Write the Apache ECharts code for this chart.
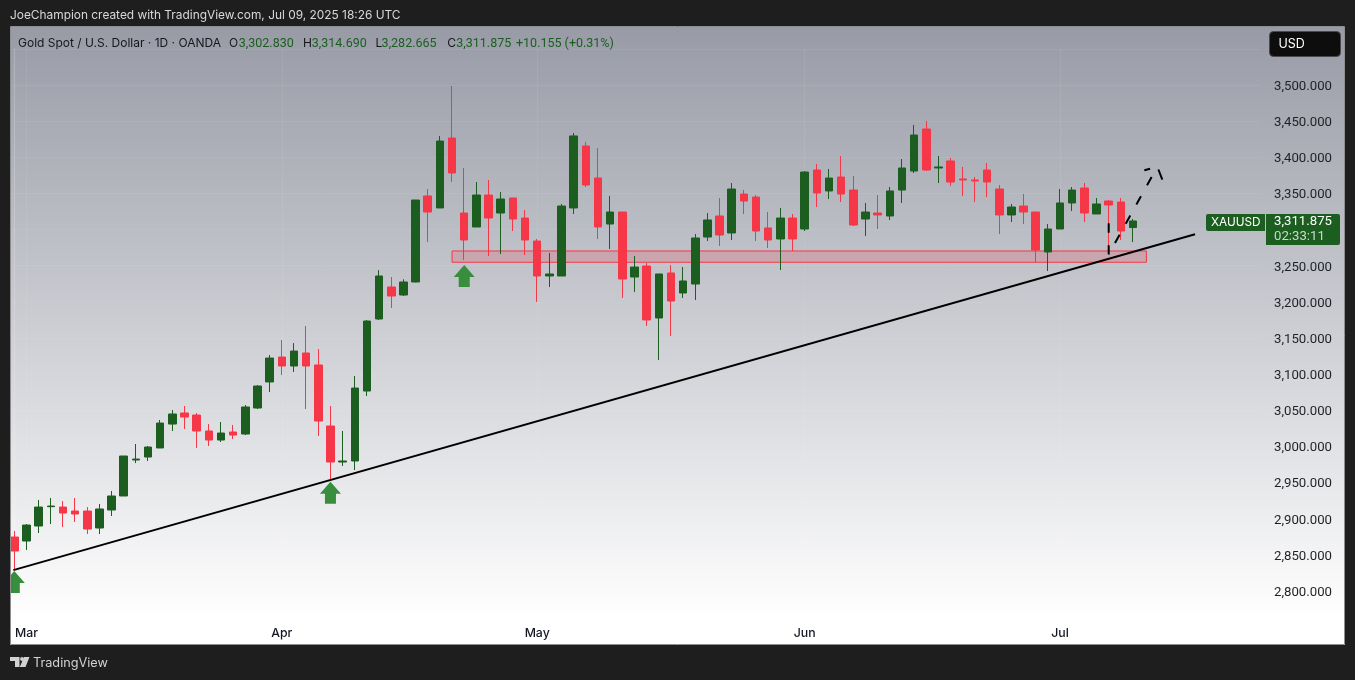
<!DOCTYPE html>
<html><head><meta charset="utf-8">
<style>html,body{margin:0;padding:0;background:#1e1e1e}#c{width:1355px;height:680px}</style>
<script src="https://cdn.jsdelivr.net/npm/echarts@6/dist/echarts.min.js"></script>
</head><body><div id="c"></div>
<script>
const categories = ["Feb 28",
"Mar 3","Mar 4","Mar 5","Mar 6","Mar 7","Mar 10","Mar 11","Mar 12","Mar 13","Mar 14","Mar 17","Mar 18","Mar 19","Mar 20","Mar 21","Mar 24","Mar 25","Mar 26","Mar 27","Mar 28","Mar 31",
"Apr 1","Apr 2","Apr 3","Apr 4","Apr 7","Apr 8","Apr 9","Apr 10","Apr 11","Apr 14","Apr 15","Apr 16","Apr 17","Apr 21","Apr 22","Apr 23","Apr 24","Apr 25","Apr 28","Apr 29","Apr 30",
"May 1","May 2","May 5","May 6","May 7","May 8","May 9","May 12","May 13","May 14","May 15","May 16","May 19","May 20","May 21","May 22","May 23","May 26","May 27","May 28","May 29","May 30",
"Jun 2","Jun 3","Jun 4","Jun 5","Jun 6","Jun 9","Jun 10","Jun 11","Jun 12","Jun 13","Jun 16","Jun 17","Jun 18","Jun 19","Jun 20","Jun 23","Jun 24","Jun 25","Jun 26","Jun 27","Jun 30",
"Jul 1","Jul 2","Jul 3","Jul 4","Jul 7","Jul 8","Jul 9","Jul 10","Jul 11","Jul 14","Jul 15","Jul 16","Jul 17","Jul 18","Jul 21","Jul 22","Jul 23"];
const monthLabels = {"Mar 3":"Mar","Apr 1":"Apr","May 1":"May","Jun 2":"Jun","Jul 1":"Jul"};

const opens = [2874.7,2869.2,2890,2916.7,2916.2,2910.7,2910.7,2887.2,2912.1,2931.5,
2981.3,2985.4,2997.9,3031,3046.3,3043.5,3021.4,3008.9,3020,3017.2,
3053.2,3089.2,3123.7,3111.3,3129.3,3112.7,3028.3,2978.5,2979.9,3076.7,
3176.3,3220.6,3209.5,3227.5,3346.5,3329.9,3426.7,3322.9,3303.6,3347.8,
3322.9,3343.7,3316,3284.2,3235.8,3235.8,3329.9,3415.6,3371.4,3307.7,
3324.3,3234.4,3249.6,3177.7,3240,3212.3,3224.7,3289.7,3318.8,3295.3,
3349.2,3345,3302.2,3287,3316,3300.8,3382.4,3353.4,3372.7,3354.7,
3314.6,3322.9,3318.8,3354.7,3381,3439.1,3385.2,3394.9,3370,3368.6,
3382.4,3356.1,3320.2,3332.6,3324.3,3269,3300.8,3336.8,3357.5,3321.6,
3339.5,3338.1,3302.83];
const closes = [2855.4,2891.3,2916.2,2917.6,2908,2906.6,2885.8,2913.5,2931.5,2986.8,
2982.6,2999.2,3032.4,3044.9,3040.7,3021.4,3008.9,3018.6,3015.8,3054.6,
3083.6,3122.3,3111.3,3132,3111.3,3035.2,2978.5,2979.9,3080.8,3173.5,
3235.8,3208.1,3227.5,3340.9,3324.3,3422.5,3378.3,3285.6,3347.8,3316,
3342.3,3314.6,3285.6,3235.8,3238.6,3332.6,3429.5,3361.7,3303.6,3324.3,
3231.6,3248.2,3175,3238.6,3201.2,3228.9,3288.4,3313.3,3292.5,3356.1,
3339.5,3298,3285.6,3316,3287,3379.6,3350.6,3371.3,3349.2,3306.3,
3324.3,3320.2,3353.4,3385.2,3430.8,3382.4,3386.6,3365.8,3368.6,3367.2,
3365.8,3320.2,3331.2,3324.3,3271.7,3300.8,3336.8,3354.7,3322.9,3335.4,
3334,3298,3311.875];
const lows = [2829,2856.8,2880.3,2892.7,2888.6,2895.5,2878.9,2878.9,2903.8,2931.5,
2977,2979.9,2997.9,3021.4,3024.1,2997.9,3000.6,3006.2,3010.3,3015.8,
3051.8,3075.3,3098.8,3103,3051.8,3014.5,2953.6,2973,2967.4,3069.8,
3175,3191.5,3208.1,3227,3282.8,3329.9,3365.8,3257.9,3303.6,3263.5,
3266.2,3298,3264.8,3199.8,3220.6,3235.8,3321.6,3358.9,3287,3273.1,
3205.4,3213.7,3166.6,3119.6,3152.8,3205.4,3202.6,3284.2,3277.3,3285.6,
3321.6,3284.2,3274.5,3244.1,3270.4,3298,3331.2,3342.3,3338.1,3304.9,
3291.1,3300.8,3313.2,3336.8,3378.3,3381,3364.4,3360.3,3346.4,3338.1,
3345,3293.9,3310.5,3307.7,3254.7,3242.7,3300.8,3325.7,3310.5,3321.6,
3269,3285.6,3282.665];
const highs = [2883,2892.7,2926,2928.7,2924.5,2928.7,2916.2,2920.4,2938.4,2986.8,
3003.4,3000.6,3036.6,3050.4,3056,3046.3,3031,3033.8,3029.7,3057.3,
3085,3126.5,3147.3,3143,3166.6,3134.8,3056,3021.4,3097.5,3174.9,
3244,3234.4,3231.2,3341,3356.1,3429.5,3498.6,3385.2,3365.8,3368.6,
3352,3343.7,3327.1,3287,3267.6,3335.4,3433.6,3421.2,3412.8,3346.5,
3324.3,3263.5,3253.8,3238.6,3251,3248.2,3293.9,3322.9,3343.7,3364.4,
3354.8,3347.8,3324.3,3329.9,3321.6,3381,3390.7,3383.8,3401.8,3374.1,
3336.8,3347.8,3358.9,3397.6,3444.7,3450.2,3401.8,3399,3386.6,3372.7,
3392.1,3361.7,3335.4,3349.2,3324.3,3307.7,3356.1,3358.9,3364.4,3343.7,
3340.9,3343.7,3314.69];

const trendLine = [[-0.08,2829],[97.1,3293.5]];
const dashedPath = [[90,3308.7],[90,3265.8],[90.15,3265.5],[94,3387]];
const dashedHead = [[92.93,3382],[94,3387],[94.41,3369]];
const supportZone = {from:36, to:93.1, top:3270.4, bottom:3254.8};
const arrowPoints = [[0,2812.5],[26,2935.9],[37,3235.8]];
const yTicks = {min:2750, max:3550, step:50};

const UI = 'Inter, "Noto Sans", sans-serif';
const NUM = 'Roboto, Inter, sans-serif';
const GREEN='#1b5e20', RED='#f53748';
const chart = echarts.init(document.getElementById('c'), null, {renderer:'canvas', width:1355, height:680});
const fmt = v => v.toLocaleString('en-US',{minimumFractionDigits:3,maximumFractionDigits:3});
const band = 12.16, gridLeft = 14.3 - band/2, gridW = band*categories.length;
const txt = (x,y,text,fill,size,fam) => ({type:'text',x,y,z:102,silent:true,
  style:{text,fill,font:`${size}px ${fam||UI}`,textVerticalAlign:'middle'}});
const hdr = 43.5;
chart.setOption({
  animation:false,
  grid:{left:gridLeft, top:48.85, width:gridW, height:578.35},
  xAxis:[{type:'category',data:categories,boundaryGap:true,
    axisLine:{show:false},axisTick:{show:false},
    axisLabel:{margin:0,color:'#131722',fontFamily:UI,fontSize:12.3,fontWeight:500,hideOverlap:false,
      interval:(i,v)=>v in monthLabels, formatter:v=>monthLabels[v]||''},
    splitLine:{show:true,alignWithLabel:true,interval:(i,v)=>v in monthLabels,lineStyle:{color:'rgba(255,255,255,0.07)',width:1}}},
   {type:'value',show:false,min:-0.5,max:categories.length-0.5,splitLine:{show:false}}],
  yAxis:{type:'value',position:'right',offset:4.3,min:yTicks.min,max:yTicks.max,interval:yTicks.step,
    axisLine:{show:true,lineStyle:{color:'rgba(255,255,255,0.2)',width:1}},axisTick:{show:false},
    axisLabel:{margin:9,color:'#1f2126',fontFamily:NUM,fontSize:13.2,verticalAlign:'top',lineHeight:3,showMinLabel:true,showMaxLabel:true,
      formatter:v=>(v===yTicks.min||v===yTicks.max)?'':fmt(v)},
    splitLine:{show:true,lineStyle:{color:'rgba(255,255,255,0.07)',width:1}}},
  series:[
    {type:'candlestick',xAxisIndex:0,z:2,barWidth:8,
     data:opens.map((o,i)=>[o,closes[i],lows[i],highs[i]]),
     itemStyle:{color:GREEN,color0:RED,borderColor:GREEN,borderColor0:RED,borderWidth:1}},
    {type:'line',xAxisIndex:1,z:4,data:trendLine,symbol:'none',lineStyle:{color:'#000',width:2},
     markArea:{silent:true,z:1,itemStyle:{color:'rgba(242,54,69,0.2)',borderColor:RED,borderWidth:1},
       data:[[{coord:[supportZone.from,supportZone.top]},{coord:[supportZone.to,supportZone.bottom]}]]}},
    {type:'line',xAxisIndex:1,z:4,data:dashedPath,symbol:'none',lineStyle:{color:'#000',width:2,type:[9.5,12.5]}},
    {type:'line',xAxisIndex:1,z:4,data:dashedHead,symbol:'none',lineStyle:{color:'#000',width:2,type:[6,10.5,11,20]}},
    {type:'scatter',xAxisIndex:1,z:3,data:arrowPoints,symbol:'path://M10.5 0 L21 12 L16 12 L16 22 L5 22 L5 12 L0 12 Z',
     symbolSize:[21,22],itemStyle:{color:'#388e3c',opacity:1},silent:true}
  ],
  graphic:{elements:[
    {type:'rect',z:-5,silent:true,shape:{x:0,y:0,width:1355,height:680},
     style:{fill:new echarts.graphic.LinearGradient(0,0,0,1,[
       {offset:0,color:'#989ba6'},{offset:27/680,color:'#989ba6'},{offset:620/680,color:'#ffffff'},{offset:1,color:'#ffffff'}])}},
    {type:'rect',z:100,silent:true,shape:{x:0,y:0,width:1355,height:27},style:{fill:'#1e1e1e'}},
    {type:'rect',z:100,silent:true,shape:{x:0,y:645,width:1355,height:35},style:{fill:'#1e1e1e'}},
    {type:'rect',z:100,silent:true,shape:{x:0,y:0,width:10,height:680},style:{fill:'#1e1e1e'}},
    {type:'rect',z:100,silent:true,shape:{x:1345,y:0,width:10,height:680},style:{fill:'#1e1e1e'}},
    {type:'rect',z:101,silent:true,shape:{x:10.5,y:26.5,width:1334,height:618},style:{fill:'none',stroke:'#8e8e8e',lineWidth:1}},
    txt(10,15.5,'JoeChampion created with TradingView.com, Jul 09, 2025 18:26 UTC','#d8d8d8',11.9),
    txt(18,hdr,'Gold Spot / U.S. Dollar · 1D · OANDA','#15171c',12),
    txt(229,hdr,'O','#15171c',12), txt(238.8,hdr,'3,302.830',GREEN,12.5,NUM),
    txt(303,hdr,'H','#15171c',12), txt(311.8,hdr,'3,314.690',GREEN,12.5,NUM),
    txt(375.5,hdr,'L','#15171c',12), txt(381.6,hdr,'3,282.665',GREEN,12.5,NUM),
    txt(447.3,hdr,'C','#15171c',12), txt(456.3,hdr,'3,311.875',GREEN,12.5,NUM),
    txt(516,hdr,'+10.155 (+0.31%)',GREEN,12.5,NUM),
    {type:'rect',z:101,silent:true,shape:{x:1269.5,y:31.5,width:71,height:25,r:4},style:{fill:'#0d0d0d',stroke:'#4a4a4a',lineWidth:1}},
    txt(1278.5,44,'USD','#ffffff',12.5),
    {type:'rect',z:101,silent:true,shape:{x:1206,y:214,width:59,height:17,r:[2,0,0,2]},style:{fill:GREEN}},
    txt(1211,222.5,'XAUUSD','#ffffff',11.8),
    {type:'rect',z:101,silent:true,shape:{x:1266,y:214,width:74,height:31,r:[0,2,2,0]},style:{fill:GREEN}},
    txt(1274,222,'3,311.875','#ffffff',13.2,NUM),
    txt(1274,236.5,'02:33:11','#c9d8ca',13.2,NUM),
    {type:'polygon',z:102,silent:true,shape:{points:[[10,657],[19.5,657],[19.5,667],[15,667],[15,661],[10,661]]},style:{fill:'#d2d2d2'}},
    {type:'polygon',z:102,silent:true,shape:{points:[[24,657],[29.5,657],[25.5,667],[19.8,667]]},style:{fill:'#d2d2d2'}},
    {type:'circle',z:102,silent:true,shape:{cx:22,cy:659,r:1.9},style:{fill:'#d2d2d2'}},
    txt(33,663.5,'TradingView','#d2d2d2',12.7)
  ]}
});
</script></body></html>
